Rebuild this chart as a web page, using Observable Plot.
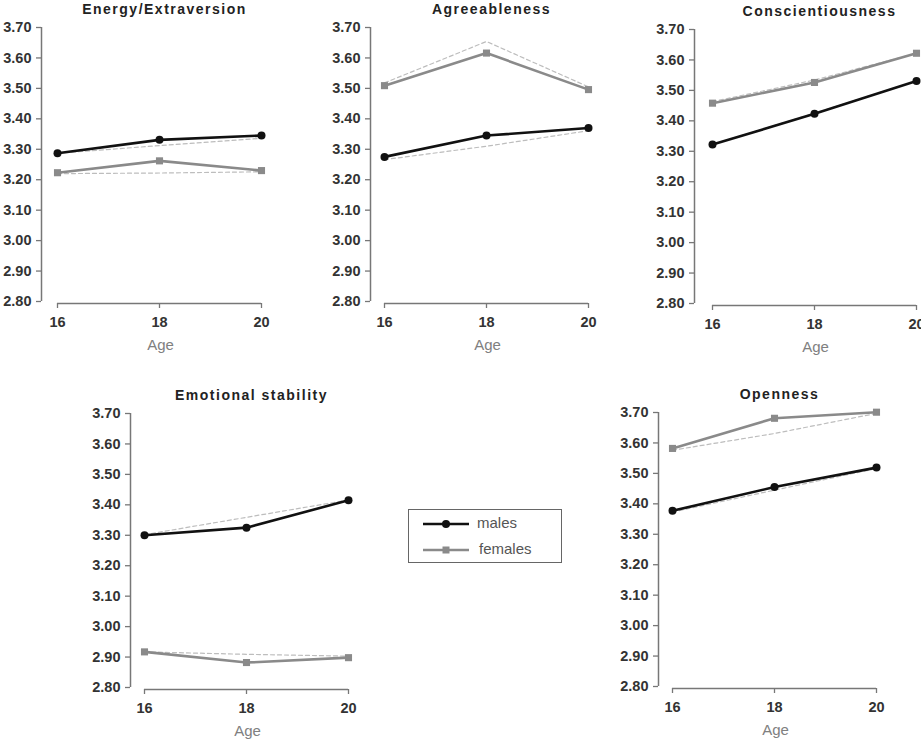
<!DOCTYPE html>
<html>
<head>
<meta charset="utf-8">
<script src="https://cdn.jsdelivr.net/npm/d3@7"></script>
<script src="https://cdn.jsdelivr.net/npm/@observablehq/plot@0.6"></script>
<style>
  body { margin: 0; background: #fff; }
  #chart { position: relative; width: 921px; height: 742px; overflow: hidden; background: #fff;
           font-family: "Liberation Sans", Arial, sans-serif; }
  .panel { position: absolute; }
  .panel svg { max-width: none !important; }
  .legend { position: absolute; box-sizing: border-box; border: 1.5px solid #666; background: #fff; }
</style>
</head>
<body>
<div id="chart"></div>
<script>
// ---- data ----
const ages = [16, 18, 20];
const traits = ["Energy/Extraversion", "Agreeableness", "Conscientiousness", "Emotional stability", "Openness"];
const malesObserved = [
  [3.287, 3.331, 3.345],
  [3.275, 3.345, 3.370],
  [3.322, 3.423, 3.531],
  [3.300, 3.325, 3.415],
  [3.377, 3.455, 3.519]
];
const femalesObserved = [
  [3.223, 3.262, 3.230],
  [3.509, 3.616, 3.496],
  [3.458, 3.526, 3.622],
  [2.917, 2.882, 2.898],
  [3.582, 3.681, 3.701]
];
const malesEstimated = [
  [3.287, 3.312, 3.336],
  [3.266, 3.310, 3.361],
  [3.322, 3.425, 3.531],
  [3.302, 3.359, 3.416],
  [3.373, 3.445, 3.516]
];
const femalesEstimated = [
  [3.220, 3.222, 3.226],
  [3.518, 3.654, 3.505],
  [3.463, 3.534, 3.622],
  [2.917, 2.909, 2.903],
  [3.576, 3.631, 3.697]
];
const yTicks = [2.8, 2.9, 3.0, 3.1, 3.2, 3.3, 3.4, 3.5, 3.6, 3.7];
const xTicks = [16, 18, 20];
const xLabel = "Age";
const seriesNames = ["males", "females"];

// ---- layout / style ----
const panelPos = [
  { left: 41, gap: 16, top: 27 },
  { left: 370, gap: 14, top: 27 },
  { left: 694, gap: 18, top: 29 },
  { left: 130, gap: 14, top: 413 },
  { left: 658, gap: 14, top: 412 }
];
const ML = 46, MT = 30, MR = 26, MB = 62, PW = 204, PH = 274, INB = 2;
const FONT = '"Liberation Sans", Arial, sans-serif';
const C_MALE = "#111", C_FEMALE = "#8a8a8a", C_DASH = "#bdbdbd", C_AXIS = "#777", C_TEXT = "#333";

const chart = document.getElementById("chart");

traits.forEach((trait, k) => {
  const p = panelPos[k];
  const rows = arr => ages.map((age, i) => ({ age, value: arr[k][i] }));
  const W = ML + p.gap + PW + MR, H = MT + PH + INB + MB;
  const svg = Plot.plot({
    width: W,
    height: H,
    marginLeft: ML, marginTop: MT, marginRight: MR, marginBottom: MB,
    x: { domain: [16, 20], insetLeft: p.gap, insetRight: 0 },
    y: { domain: [2.8, 3.7], insetBottom: INB },
    style: { fontFamily: FONT, background: "transparent", overflow: "visible", color: C_TEXT, maxWidth: "none" },
    marks: [
      // axis lines
      Plot.ruleX([16], { y1: 2.8, y2: 3.7, dx: -p.gap, stroke: C_AXIS, strokeWidth: 1.5 }),
      Plot.ruleY([2.8], { x1: 16, x2: 20, dy: INB, stroke: C_AXIS, strokeWidth: 1.5 }),
      // ticks
      Plot.axisY({ ticks: yTicks, tickSize: 5, tickFormat: () => "", stroke: C_AXIS, strokeWidth: 1.3, label: null }),
      Plot.axisX({ ticks: xTicks, tickSize: 5, tickFormat: () => "", stroke: C_AXIS, strokeWidth: 1.3, label: null }),
      // tick labels
      Plot.axisY({ ticks: yTicks, tickSize: 0, tickPadding: 10, tickFormat: d3.format(".2f"),
                   fontSize: 14.5, fontWeight: "bold", fill: C_TEXT, label: null }),
      Plot.axisX({ ticks: xTicks, tickSize: 0, tickPadding: 13, tickFormat: d3.format("d"),
                   fontSize: 14.5, fontWeight: "bold", fill: C_TEXT, label: null }),
      // estimated (dashed)
      Plot.line(rows(femalesEstimated), { x: "age", y: "value", stroke: C_DASH, strokeWidth: 1.2, strokeDasharray: "4,3" }),
      Plot.line(rows(malesEstimated), { x: "age", y: "value", stroke: C_DASH, strokeWidth: 1.2, strokeDasharray: "4,3" }),
      // observed
      Plot.line(rows(femalesObserved), { x: "age", y: "value", stroke: C_FEMALE, strokeWidth: 2.6 }),
      Plot.dot(rows(femalesObserved), { x: "age", y: "value", symbol: "square", r: 4, fill: C_FEMALE }),
      Plot.line(rows(malesObserved), { x: "age", y: "value", stroke: C_MALE, strokeWidth: 2.6 }),
      Plot.dot(rows(malesObserved), { x: "age", y: "value", symbol: "circle", r: 4, fill: C_MALE }),
      // title and x label
      Plot.text([trait], { frameAnchor: "top", lineAnchor: "bottom", dy: -14, dx: p.gap / 2 + 5,
                           fontSize: 14, fontWeight: "bold", fill: "#222" }),
      Plot.text([xLabel], { frameAnchor: "bottom", dy: 46, dx: p.gap / 2 + 1, fontSize: 15, fill: "#808080" })
    ]
  });
  svg.querySelectorAll("text").forEach(t => { if (t.textContent === trait) t.style.letterSpacing = "1.5px"; });
  const wrap = document.createElement("div");
  wrap.className = "panel";
  wrap.style.left = (p.left - ML) + "px";
  wrap.style.top = (p.top - MT) + "px";
  wrap.style.width = W + "px";
  wrap.style.height = H + "px";
  wrap.appendChild(svg);
  chart.appendChild(wrap);
});

// ---- legend ----
const legend = document.createElement("div");
legend.className = "legend";
legend.style.left = "408px"; legend.style.top = "509px";
legend.style.width = "154px"; legend.style.height = "54px";
const NS = "http://www.w3.org/2000/svg";
const lsvg = document.createElementNS(NS, "svg");
lsvg.setAttribute("width", "151"); lsvg.setAttribute("height", "51");
const legendStyles = [
  { color: C_MALE, symbol: "circle", y: 14 },
  { color: C_FEMALE, symbol: "square", y: 40 }
];
seriesNames.forEach((name, i) => {
  const s = legendStyles[i];
  const line = document.createElementNS(NS, "line");
  line.setAttribute("x1", 14); line.setAttribute("x2", 60);
  line.setAttribute("y1", s.y); line.setAttribute("y2", s.y);
  line.setAttribute("stroke", s.color); line.setAttribute("stroke-width", 2.6);
  lsvg.appendChild(line);
  let sym;
  if (s.symbol === "circle") {
    sym = document.createElementNS(NS, "circle");
    sym.setAttribute("cx", 37); sym.setAttribute("cy", s.y); sym.setAttribute("r", 4);
  } else {
    sym = document.createElementNS(NS, "rect");
    sym.setAttribute("x", 33.5); sym.setAttribute("y", s.y - 3.5);
    sym.setAttribute("width", 7); sym.setAttribute("height", 7);
  }
  sym.setAttribute("fill", s.color);
  lsvg.appendChild(sym);
  const txt = document.createElementNS(NS, "text");
  txt.setAttribute("x", i === 0 ? 68 : 70); txt.setAttribute("y", s.y - 1);
  txt.setAttribute("dy", "0.35em");
  txt.setAttribute("font-family", FONT); txt.setAttribute("font-size", 15);
  txt.setAttribute("fill", "#555");
  txt.textContent = name;
  lsvg.appendChild(txt);
});
legend.appendChild(lsvg);
chart.appendChild(legend);
</script>
</body>
</html>
